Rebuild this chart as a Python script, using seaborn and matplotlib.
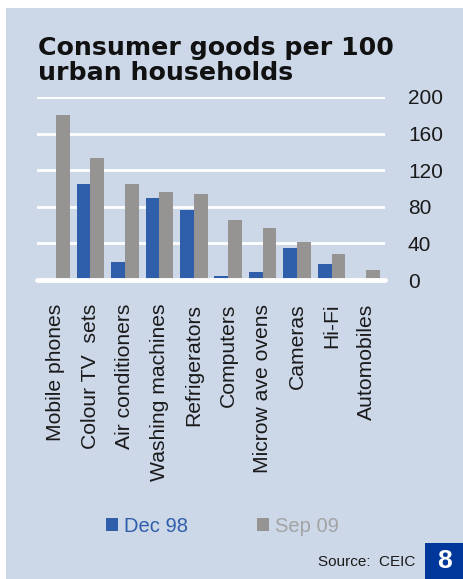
import matplotlib
matplotlib.use("Agg")
import matplotlib.pyplot as plt
import matplotlib.patches as mpatches
import seaborn as sns
import pandas as pd

categories = ["Mobile phones", "Colour TV  sets", "Air conditioners", "Washing machines",
              "Refrigerators", "Computers", "Microw ave ovens", "Cameras", "Hi-Fi", "Automobiles"]
dec98 = [0, 105, 20, 90, 76, 4, 9, 35, 18, 0]
sep09 = [180, 133, 105, 96, 94, 66, 57, 42, 28, 11]
series_names = ["Dec 98", "Sep 09"]
y_ticks = [0, 40, 80, 120, 160, 200]

df = pd.DataFrame({
    "item": categories * 2,
    "value": dec98 + sep09,
    "period": [series_names[0]] * len(categories) + [series_names[1]] * len(categories),
})

BG = "#CCD7E8"
BLUE = "#2F5FAA"
GREY = "#969492"

sns.set_theme(style="white")
plt.rcParams["font.family"] = ["Liberation Sans", "DejaVu Sans"]

W, H = 463, 579
fig = plt.figure(figsize=(W / 100, H / 100), dpi=100)
fig.patch.set_facecolor("white")

# Light panel behind everything
fig.add_artist(mpatches.Rectangle((6 / W, 0), 1 - 6 / W, 1 - 8 / H,
                                  transform=fig.transFigure, facecolor=BG,
                                  edgecolor="none", zorder=-5))

ax = fig.add_axes([37 / W, (H - 280) / H, (385 - 37) / W, (280 - 97) / H])
ax.set_facecolor("none")
ax.set_zorder(2)

sns.barplot(data=df, x="item", y="value", hue="period", palette=[BLUE, GREY],
            width=0.8, saturation=1, ax=ax, legend=True, zorder=3,
            edgecolor="none", linewidth=0)

ax.set_ylim(0, 200)
ax.set_xlim(-0.55, len(categories) - 0.45)
ax.set_yticks(y_ticks)
ax.yaxis.tick_right()
ax.tick_params(axis="y", length=0, pad=16.5, labelsize=15, labelcolor="#1a1a1a")
ax.tick_params(axis="x", length=0, pad=17, labelsize=15.2, labelcolor="#1a1a1a")
for lbl in ax.get_xticklabels():
    lbl.set_rotation(90)
    lbl.set_va("top")
    lbl.set_ha("center")
ax.set_xlabel("")
ax.set_ylabel("")
for s in ax.spines.values():
    s.set_visible(False)

ax.grid(axis="y", color="white", linewidth=2, zorder=1)
ax.grid(axis="x", visible=False)
ax.set_axisbelow(True)
ax.axhline(0, color="white", linewidth=3.5, zorder=4, clip_on=False)

# Legend below the category labels
handles, labels = ax.get_legend_handles_labels()
ax.get_legend().remove()
leg = fig.legend(handles, labels, ncol=2, frameon=False, loc="center left",
                 bbox_to_anchor=(88 / W, (H - 526) / H), fontsize=14.5,
                 handlelength=0.6, handleheight=0.6, handletextpad=0.3,
                 columnspacing=3.4)
for h in leg.legend_handles:
    h.set_edgecolor("none")
for txt, col in zip(leg.get_texts(), [BLUE, "#A3A3A3"]):
    txt.set_color(col)

# Title
fig.text(38 / W, (H - 36) / H, "Consumer goods per 100\nurban households",
         ha="left", va="top", fontsize=18.2, fontweight="heavy",
         family=["DejaVu Sans"], color="#111111", linespacing=1.07)

# Source and page number
fig.text(415 / W, (H - 562) / H, "Source:  CEIC", ha="right", va="center",
         fontsize=11, color="#1a1a1a")
fig.add_artist(mpatches.Rectangle((425 / W, 0), 1 - 425 / W, 36 / H,
                                  transform=fig.transFigure, facecolor="#00379A",
                                  edgecolor="none", zorder=1))
fig.text(444 / W, (H - 561) / H, "8", ha="center", va="center", fontsize=19,
         fontweight="bold", color="white")

fig.savefig("out.png", dpi=100, facecolor=fig.get_facecolor())
